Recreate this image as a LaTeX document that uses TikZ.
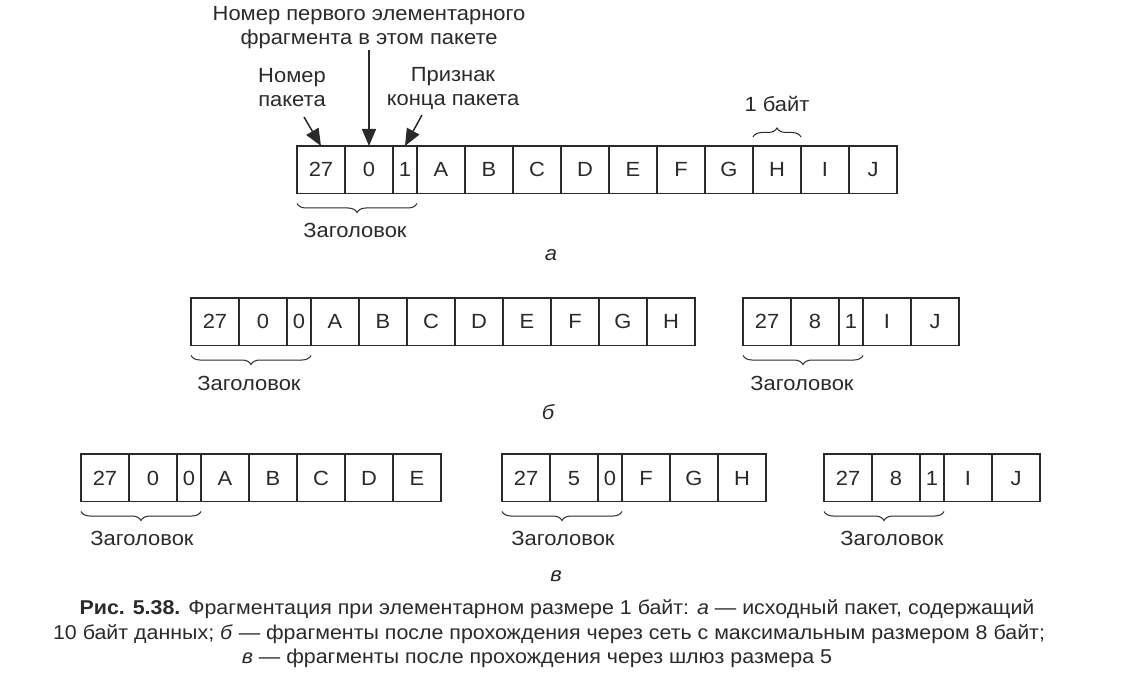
\documentclass[tikz,border=0pt]{standalone}
\usepackage{fontspec}
\setmainfont[FakeStretch=1.07]{Liberation Sans}
\usetikzlibrary{arrows.meta,decorations.pathreplacing}
\definecolor{ink}{HTML}{2A2A2A}
\newcommand\mkpacket[4]{%
  \node[inner sep=0pt,outer sep=0pt,minimum size=0pt] (#1-0) at (#2,#3) {};
  \foreach \lab/\w [count=\i, evaluate=\i as \j using int(\i-1)] in {#4}
    \node[cell, minimum width=\w pt] (#1-\i) at (#1-\j.north east) {\lab};
}
\begin{document}
\begin{tikzpicture}[x=1pt,y=-1pt,
  cell/.style={draw=ink, line width=1.3pt, minimum height=47.5pt, inner sep=0pt, outer sep=0pt,
    text height=14.5pt, text depth=0pt,
    anchor=north west, font=\fontsize{20.5}{24}\selectfont, text=ink},
  lbl/.style={font=\fontsize{20.5}{24}\selectfont, text=ink, align=center, inner sep=0pt},
  sublbl/.style={font=\fontsize{20.5}{24}\selectfont\itshape, text=ink, inner sep=0pt},
  captxt/.style={font=\fontsize{20}{24}\selectfont, text=ink, inner sep=0pt},
  arr/.style={draw=ink, line width=1.5pt, -{Triangle[length=17pt,width=14pt]}},
  brcdown/.style={draw=ink, line width=1pt, decorate, decoration={brace, mirror, amplitude=9pt}},
  brcup/.style={draw=ink, line width=1pt, decorate, decoration={brace, amplitude=9pt}}]
\fill[white] (0,0) rectangle (1136,687);
% row a
\mkpacket{a}{297}{146}{27/48,0/48,1/24,A/48,B/48,C/48,D/48,E/48,F/48,G/48,H/48,I/48,J/48}
% labels above row a
\node[lbl] (lfirst) at (369,28) {Номер первого элементарного\\фрагмента в этом пакете};
\node[lbl] (lnum) at (292,88) {Номер\\пакета};
\node[lbl] (lend) at (453,88) {Признак\\конца пакета};
\coordinate (s1) at (304,117);
\coordinate (s2) at (369,50);
\coordinate (s3) at (422,115);
\draw[arr] (s1) -- (a-1.north);
\draw[arr] (s2) -- (a-2.north);
\draw[arr] (s3) -- (a-3.north);
\draw[brcup] ([shift={(0,-9)}]a-11.north west) -- ([shift={(0,-9)}]a-11.north east);
\node[lbl] (lbyte) at (777,104) {1 байт};
\draw[brcdown] ([shift={(0,10)}]a-1.south west) -- ([shift={(0,10)}]a-3.south east);
\node[lbl] (ha) at (355,230) {Заголовок};
\node[sublbl] (suba) at (551,255) {а};
% row b
\mkpacket{b}{191}{298}{27/48,0/48,0/24,A/48,B/48,C/48,D/48,E/48,F/48,G/48,H/48}
\mkpacket{c}{743}{298}{27/48,8/48,1/24,I/48,J/48}
\draw[brcdown] ([shift={(0,10)}]b-1.south west) -- ([shift={(0,10)}]b-3.south east);
\draw[brcdown] ([shift={(0,10)}]c-1.south west) -- ([shift={(0,10)}]c-3.south east);
\node[lbl] (hb) at (249,383) {Заголовок};
\node[lbl] (hc) at (802,383) {Заголовок};
\node[sublbl] (subb) at (548,412) {б};
% row c
\mkpacket{d}{81}{454}{27/48,0/48,0/24,A/48,B/48,C/48,D/48,E/48}
\mkpacket{e}{502}{454}{27/48,5/48,0/24,F/48,G/48,H/48}
\mkpacket{f}{824}{454}{27/48,8/48,1/24,I/48,J/48}
\draw[brcdown] ([shift={(0,10)}]d-1.south west) -- ([shift={(0,10)}]d-3.south east);
\draw[brcdown] ([shift={(0,10)}]e-1.south west) -- ([shift={(0,10)}]e-3.south east);
\draw[brcdown] ([shift={(0,10)}]f-1.south west) -- ([shift={(0,10)}]f-3.south east);
\node[lbl] (hd) at (142,538) {Заголовок};
\node[lbl] (he) at (563,538) {Заголовок};
\node[lbl] (hf) at (892,538) {Заголовок};
\node[sublbl] (subc) at (556,576) {в};
% caption
\node[captxt] (cap1) at (557,609) {\textbf{Рис. 5.38.} Фрагментация при элементарном размере 1 байт: \textit{а} — исходный пакет, содержащий};
\node[captxt] (cap2) at (549,634) {10 байт данных; \textit{б} — фрагменты после прохождения через сеть с максимальным размером 8 байт;};
\node[captxt] (cap3) at (537,658) {\textit{в} — фрагменты после прохождения через шлюз размера 5};
\end{tikzpicture}
\end{document}
